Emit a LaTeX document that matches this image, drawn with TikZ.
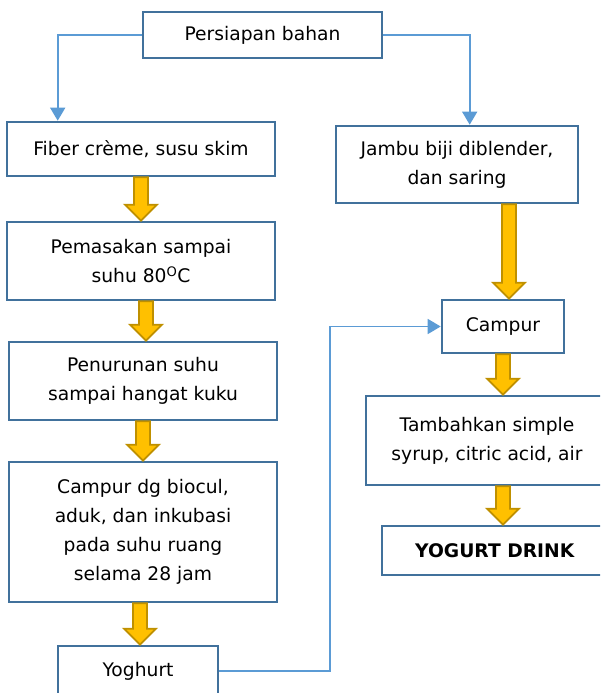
\documentclass[tikz,border=0pt]{standalone}
\usepackage{fontspec}
\setmainfont{DejaVu Sans}
\usepackage{tikz}
\usetikzlibrary{calc,positioning,arrows.meta}

\definecolor{boxblue}{HTML}{41719C}
\definecolor{lineblue}{HTML}{5B9BD5}
\definecolor{goldfill}{HTML}{FFC000}
\definecolor{golddraw}{HTML}{BF9000}

% thick yellow arrow, x taken from the lower point
\newcommand{\goldarrow}[2]{%
  \draw[goldarrow] let \p1=(#1), \p2=(#2) in
    (\x2-7pt,\y1) -- (\x2+7pt,\y1) -- (\x2+7pt,\y2+16pt) -- (\x2+16pt,\y2+16pt)
    -- (\x2,\y2) -- (\x2-16pt,\y2+16pt) -- (\x2-7pt,\y2+16pt) -- cycle;}

\begin{document}
\begin{tikzpicture}[x=1pt,y=-1pt,
    every node/.style={font=\fontsize{18.7}{29}\selectfont, align=center},
    stepbox/.style={draw=boxblue, line width=2.6pt, fill=white, inner sep=0pt},
    flow/.style={draw=lineblue, line width=1.6pt, -{Triangle[width=15pt,length=13pt]}},
    goldarrow/.style={fill=goldfill, draw=golddraw, line width=1.8pt, line join=miter}]
    \path[use as bounding box, clip] (0,0) rectangle (600,693);

    % boxes
    \node[stepbox, minimum width=239, minimum height=46] (prep) at (262.5,35) {Persiapan bahan};
    \node[stepbox, minimum width=268, minimum height=54] (fiber) at (141,149) {Fiber crème, susu skim};
    \node[stepbox, minimum width=242, minimum height=77] (jambu) at (457,164.5) {Jambu biji diblender,\\dan saring};
    \node[stepbox, minimum width=268, minimum height=78] (masak) at (141,261) {Pemasakan sampai\\suhu 80\textsuperscript{O}C};
    \node[stepbox, minimum width=268, minimum height=78] (turun) at (143,381) {Penurunan suhu\\sampai hangat kuku};
    \node[stepbox, minimum width=268, minimum height=140] (biocul) at (143,532) {Campur dg biocul,\\aduk, dan inkubasi\\pada suhu ruang\\selama 28 jam};
    \node[stepbox, minimum width=160, minimum height=50] (yog) at (138,671) {Yoghurt};
    \node[stepbox, minimum width=122, minimum height=53] (campur) at (503,326.5) {Campur};
    \node[stepbox, minimum width=242, minimum height=89] (tambah) at (487,440.5) {Tambahkan simple\\syrup, citric acid, air};
    \node[stepbox, minimum width=226, minimum height=49] (drink) at (495,550.5) {\textbf{YOGURT DRINK}};

    % thin connectors
    \coordinate (turn) at (330,671);
    \draw[flow] (prep.west) -| ($(fiber.north west)+(52,0)$);
    \draw[flow] (prep.east) -| ($(jambu.north west)+(135,0)$);
    \draw[flow] (yog.east) -- (turn) |- (campur.west);

    % yellow arrows
    \goldarrow{fiber.south}{masak.north}
    \goldarrow{masak.south}{$(turun.north)+(3,0)$}
    \goldarrow{turun.south}{biocul.north}
    \goldarrow{biocul.south}{$(yog.north)+(2,0)$}
    \goldarrow{jambu.south}{$(campur.north)+(6,0)$}
    \goldarrow{campur.south}{campur.south |- tambah.north}
    \goldarrow{tambah.south}{campur.south |- drink.north}
\end{tikzpicture}
\end{document}
